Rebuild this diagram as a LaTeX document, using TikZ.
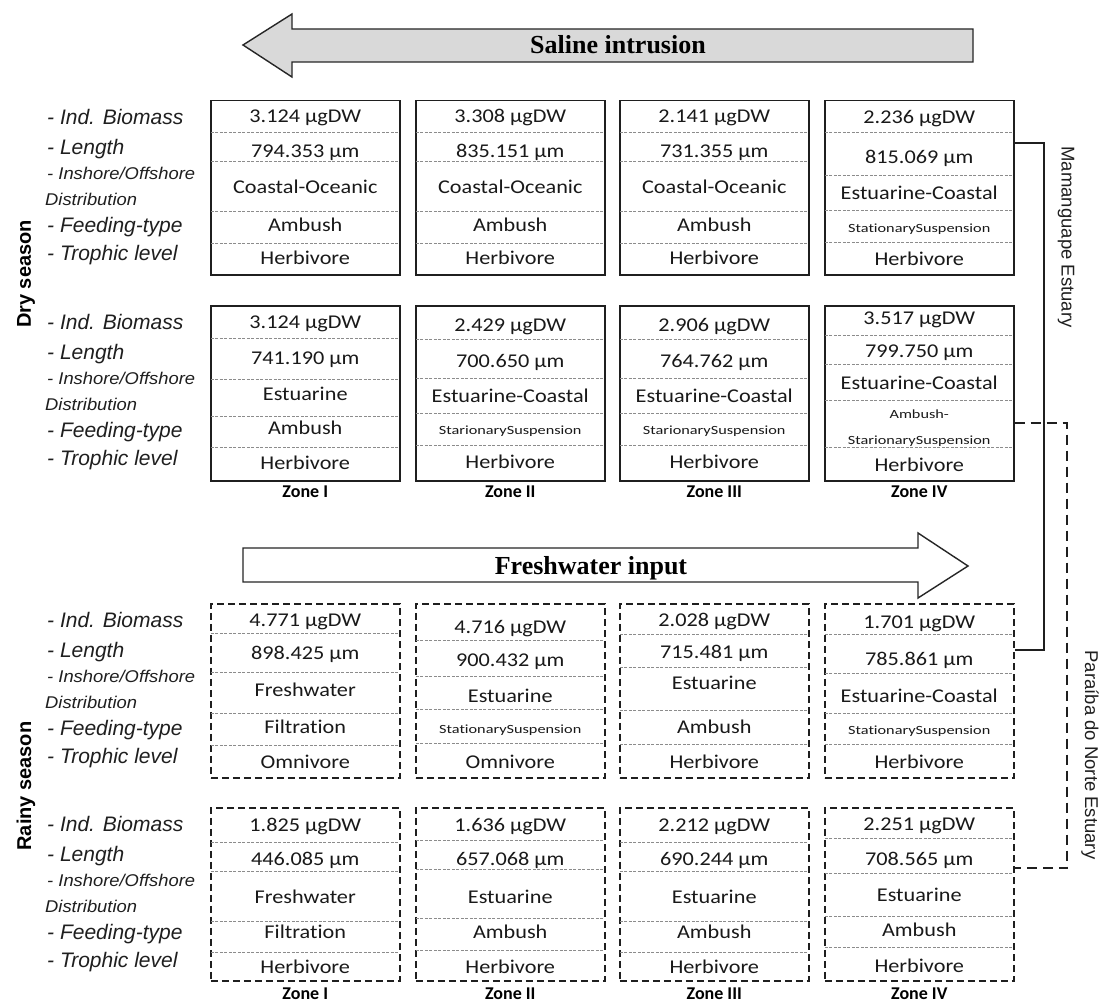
\documentclass[tikz,border=0pt]{standalone}
\usepackage{fontspec}
\setmainfont{Carlito}[Ligatures=NoCommon]
\newfontfamily\labfont{Liberation Sans}
\newfontfamily\arrfont{Liberation Serif}
\usetikzlibrary{calc}
\definecolor{salgray}{RGB}{217,217,217}
\newcommand\hs[2]{\scalebox{#1}[1]{#2}}
\newcommand\sm[1]{{\fontsize{12.5}{14}\selectfont\hs{1.14}{#1}}}
\newcommand\setcenters[5]{\def\ca{#1}\def\cb{#2}\def\cc{#3}\def\cd{#4}\def\ce{#5}}
\newcommand\mkbox[5]{%
  \node[#5, minimum width=189pt, minimum height={(#4-#3)*1pt}, anchor=north west] (#1) at (#2,#3) {};
  \foreach \yy in \divlist {\draw[div] (#1.west |- 0,\yy) -- (#1.east |- 0,\yy);}
}
\newcommand\fillbox[6]{%
  \node[cell] (#1-a) at (#1.center |- 0,\ca) {\hs{1.14}{#2}};
  \node[cell] (#1-b) at (#1.center |- 0,\cb) {\hs{1.14}{#3}};
  \node[cell] (#1-c) at (#1.center |- 0,\cc) {\hs{1.14}{#4}};
  \node[cell] (#1-d) at (#1.center |- 0,\cd) {\hs{1.14}{#5}};
  \node[cell] (#1-e) at (#1.center |- 0,\ce) {\hs{1.14}{#6}};
}
\begin{document}
\begin{tikzpicture}[x=1pt,y=-1pt,
  solidbox/.style={draw=black!88, line width=1.5pt, fill=white, inner sep=0pt},
  dashbox/.style={draw=black!88, line width=1.5pt, dash pattern=on 7pt off 4pt, fill=white, inner sep=0pt},
  div/.style={draw=black!45, line width=0.8pt, dash pattern=on 3pt off 1.5pt, shorten <=0.8pt, shorten >=0.8pt},
  cell/.style={font=\fontsize{19.5}{21}\selectfont, inner sep=0pt, text height=12.5pt, text depth=0pt, text=black!90},
  lbl/.style={font=\labfont\itshape\fontsize{21}{23}\selectfont, anchor=west, inner sep=0pt, text height=15pt, text depth=0pt, text=black!88},
  lbls/.style={font=\labfont\itshape\fontsize{17}{19}\selectfont, anchor=west, inner sep=0pt, text height=12.2pt, text depth=0pt, text=black!88},
  zone/.style={font=\bfseries\fontsize{18}{20}\selectfont, inner sep=0pt, text height=11.6pt, text depth=0pt},
  season/.style={font=\labfont\bfseries\fontsize{20}{22}\selectfont, rotate=90, inner sep=0pt},
  estuary/.style={font=\labfont\fontsize{18.5}{20}\selectfont, rotate=-90, inner sep=0pt, text=black!88},
  arrowtxt/.style={font=\arrfont\bfseries\fontsize{26}{28}\selectfont, inner sep=0pt, text height=17pt, text depth=0pt},
  arrowshape/.style={draw=black!85, line width=1.4pt, line join=miter},
  bracket/.style={draw=black!88, line width=1.6pt},
  dbracket/.style={draw=black!88, line width=1.6pt, dash pattern=on 10pt off 6pt},
]
\fill[white] (0,0) rectangle (1102,1006);
\useasboundingbox (0,0) rectangle (1102,1006);

% ---- arrows ----
\draw[arrowshape, fill=salgray] (243,45) -- (292,14) -- (292,29) -- (973,29) -- (973,62) -- (292,62) -- (292,77) -- cycle;
\node[arrowtxt] (saline) at (618,45) {Saline intrusion};
\draw[arrowshape, fill=white] (243,548) -- (918,548) -- (918,533) -- (968,566) -- (918,598) -- (918,582) -- (243,582) -- cycle;
\node[arrowtxt] (fresh) at (591,566) {Freshwater input};

% ---- side labels ----
\foreach \T/\k in {100/a,305/b,603/c,807/d}{
  \node[lbl] (bio\k) at (47,\T+17) {- Ind. Biomass};
  \node[lbl] (len\k) at (47,\T+47) {- Length};
  \node[lbls] (ins\k) at (47,\T+73) {\hs{1.08}{- Inshore/Offshore}};
  \node[lbls] (dis\k) at (45,\T+99) {\hs{1.08}{Distribution}};
  \node[lbl] (fee\k) at (47,\T+125) {- Feeding-type};
  \node[lbl] (tro\k) at (47,\T+153) {- Trophic level};
}
\node[season] (dry) at (26,274) {Dry season};
\node[season] (rainy) at (26,786) {Rainy season};

% ---- Dry season, row 1 ----
\def\divlist{132,161,211,243}
\setcenters{116}{151}{187}{225}{258}
\mkbox{b11}{210}{100}{274}{solidbox}
\fillbox{b11}{3.124 µgDW}{794.353 µm}{Coastal-Oceanic}{Ambush}{Herbivore}
\mkbox{b12}{415}{100}{274}{solidbox}
\fillbox{b12}{3.308 µgDW}{835.151 µm}{Coastal-Oceanic}{Ambush}{Herbivore}
\mkbox{b13}{619}{100}{274}{solidbox}
\fillbox{b13}{2.141 µgDW}{731.355 µm}{Coastal-Oceanic}{Ambush}{Herbivore}
\def\divlist{132,175,210,242}
\setcenters{117}{157}{193}{226}{259}
\mkbox{b14}{824}{100}{274}{solidbox}
\fillbox{b14}{2.236 µgDW}{815.069 µm}{Estuarine-Coastal}{\sm{StationarySuspension}}{Herbivore}

% ---- Dry season, row 2 ----
\def\divlist{338,379,416,447}
\setcenters{322}{358}{394}{428}{463}
\mkbox{b21}{210}{305}{480}{solidbox}
\fillbox{b21}{3.124 µgDW}{741.190 µm}{Estuarine}{Ambush}{Herbivore}
\def\divlist{339,378,413,445}
\setcenters{325}{361}{396}{428}{462}
\mkbox{b22}{415}{305}{480}{solidbox}
\fillbox{b22}{2.429 µgDW}{700.650 µm}{Estuarine-Coastal}{\sm{StarionarySuspension}}{Herbivore}
\mkbox{b23}{619}{305}{480}{solidbox}
\fillbox{b23}{2.906 µgDW}{764.762 µm}{Estuarine-Coastal}{\sm{StarionarySuspension}}{Herbivore}
\def\divlist{335,364,400,447}
\setcenters{318}{351}{383}{412}{465}
\mkbox{b24}{824}{305}{480}{solidbox}
\fillbox{b24}{3.517 µgDW}{799.750 µm}{Estuarine-Coastal}{\sm{Ambush-}}{Herbivore}
\node[cell] (b24-d2) at (b24.center |- 0,438) {\hs{1.14}{\sm{StarionarySuspension}}};

\node[zone] (z11) at (b21.center |- 0,492) {Zone I};
\node[zone] (z12) at (b22.center |- 0,492) {Zone II};
\node[zone] (z13) at (b23.center |- 0,492) {Zone III};
\node[zone] (z14) at (b24.center |- 0,492) {Zone IV};

% ---- Rainy season, row 1 ----
\def\divlist{633,672,713,745}
\setcenters{620}{653}{690}{727}{762}
\mkbox{b31}{210}{603}{777}{dashbox}
\fillbox{b31}{4.771 µgDW}{898.425 µm}{Freshwater}{Filtration}{Omnivore}
\def\divlist{640,676,709,743}
\setcenters{627}{660}{696}{727}{762}
\mkbox{b32}{415}{603}{777}{dashbox}
\fillbox{b32}{4.716 µgDW}{900.432 µm}{Estuarine}{\sm{StationarySuspension}}{Omnivore}
\def\divlist{634,667,710,744}
\setcenters{620}{652}{683}{727}{762}
\mkbox{b33}{619}{603}{777}{dashbox}
\fillbox{b33}{2.028 µgDW}{715.481 µm}{Estuarine}{Ambush}{Herbivore}
\def\divlist{634,673,713,744}
\setcenters{622}{659}{696}{728}{762}
\mkbox{b34}{824}{603}{777}{dashbox}
\fillbox{b34}{1.701 µgDW}{785.861 µm}{Estuarine-Coastal}{\sm{StationarySuspension}}{Herbivore}

% ---- Rainy season, row 2 ----
\def\divlist{842,871,921,952}
\setcenters{825}{859}{897}{932}{967}
\mkbox{b41}{210}{807}{980}{dashbox}
\fillbox{b41}{1.825 µgDW}{446.085 µm}{Freshwater}{Filtration}{Herbivore}
\def\divlist{840,869,918,950}
\mkbox{b42}{415}{807}{980}{dashbox}
\fillbox{b42}{1.636 µgDW}{657.068 µm}{Estuarine}{Ambush}{Herbivore}
\def\divlist{842,871,921,952}
\mkbox{b43}{619}{807}{980}{dashbox}
\fillbox{b43}{2.212 µgDW}{690.244 µm}{Estuarine}{Ambush}{Herbivore}
\def\divlist{838,873,916,947}
\setcenters{824}{859}{895}{930}{966}
\mkbox{b44}{824}{807}{980}{dashbox}
\fillbox{b44}{2.251 µgDW}{708.565 µm}{Estuarine}{Ambush}{Herbivore}

\node[zone] (z21) at (b41.center |- 0,994) {Zone I};
\node[zone] (z22) at (b42.center |- 0,994) {Zone II};
\node[zone] (z23) at (b43.center |- 0,994) {Zone III};
\node[zone] (z24) at (b44.center |- 0,994) {Zone IV};

% ---- estuary brackets ----
\coordinate (m1) at (1044,143);
\coordinate (m2) at (1044,650);
\draw[bracket] (b14.east |- m1) -- (m1) -- (m2) -- (b34.east |- m2);
\node[estuary] (mam) at (1066,237) {Mamanguape Estuary};
\coordinate (p1) at (1067,423);
\coordinate (p2) at (1067,868);
\draw[dbracket] (b24.east |- p1) -- (p1) -- (p2) -- (b44.east |- p2);
\node[estuary] (par) at (1090,755) {Paraíba do Norte Estuary};
\end{tikzpicture}
\end{document}
